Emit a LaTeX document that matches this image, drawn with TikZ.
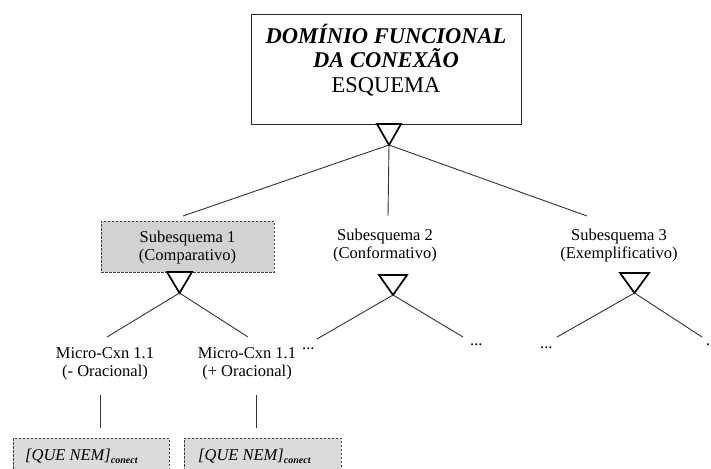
\documentclass[tikz,border=0pt]{standalone}
\usepackage{fontspec}
\setmainfont{Liberation Serif}
\begin{document}
\begin{tikzpicture}[x=1pt,y=-1pt,
  thinline/.style={draw=black!80, line width=0.9pt},
  tri/.style={draw=black, line width=1.7pt, line join=miter},
  dashbox/.style={draw=black!75, line width=0.8pt, dash pattern=on 2.5pt off 1.5pt, fill=gray!35},
  lbl/.style={font=\fontsize{16.5}{18}\selectfont, align=center, inner sep=0pt},
  toptxt/.style={font=\fontsize{22.5}{25}\selectfont, inner sep=0pt, anchor=base},
  dotsty/.style={font=\fontsize{16.5}{18}\selectfont, inner sep=0pt, anchor=base west},
  subsc/.style={font=\fontsize{16.5}{18}\selectfont, inner sep=0pt, anchor=base west}
]
\clip (0,0) rectangle (711,468);
\fill[white] (0,0) rectangle (711,468);

% top box
\node[draw=black!85, line width=1pt, minimum width=270pt, minimum height=109pt, inner sep=0pt] (top) at (386,69.5) {};
\node[toptxt] (t1) at (386,44) {\textbf{\textit{DOMÍNIO FUNCIONAL}}};
\node[toptxt] (t2) at (386,67.5) {\textbf{\textit{DA CONEXÃO}}};
\node[toptxt] (t3) at (386,93) {ESQUEMA};

% top triangle
\coordinate (a0) at (389,145);
\draw[tri] (377,124) -- (401,124) -- (a0) -- cycle;

% subschemas (anchor base = last line baseline)
\node[dashbox, minimum width=173pt, minimum height=51pt, inner sep=0pt] (s1box) at (187.5,246.5) {};
\node[lbl, anchor=base] (s1) at (187.5,260) {Subesquema 1\\(Comparativo)};
\node[lbl, anchor=base] (s2) at (385,258) {Subesquema 2\\(Conformativo)};
\node[lbl, anchor=base] (s3) at (619,258) {Subesquema 3\\(Exemplificativo)};

\coordinate (e1) at (183,216);
\coordinate (e2) at (388,216);
\coordinate (e3) at (587,216);
\draw[thinline] (a0) -- (e1);
\draw[thinline] (a0) -- (e2);
\draw[thinline] (a0) -- (e3);

% sub triangles
\coordinate (a1) at (179.5,293);
\draw[tri] (167,272) -- (192,272) -- (a1) -- cycle;
\coordinate (a2) at (393,295);
\draw[tri] (379,275) -- (407,275) -- (a2) -- cycle;
\coordinate (a3) at (634.5,293);
\draw[tri] (620,273) -- (649,273) -- (a3) -- cycle;

% micro constructions
\node[lbl, anchor=base] (m1) at (105,376) {Micro-Cxn 1.1\\(- Oracional)};
\node[lbl, anchor=base] (m2) at (247,376) {Micro-Cxn 1.1\\(+ Oracional)};
\coordinate (b11) at (107,337);
\coordinate (b12) at (248,337);
\draw[thinline] (a1) -- (b11);
\draw[thinline] (a1) -- (b12);

% dots
\node[dotsty] (d21) at (302,349) {...};
\node[dotsty] (d22) at (470,345) {...};
\node[dotsty] (d31) at (540,348) {...};
\node[dotsty] (d32) at (706,345) {...};
\coordinate (b21) at (317,339);
\coordinate (b22) at (463,337);
\coordinate (b31) at (557,337);
\coordinate (b32) at (702,337);
\draw[thinline] (a2) -- (b21);
\draw[thinline] (a2) -- (b22);
\draw[thinline] (a3) -- (b31);
\draw[thinline] (a3) -- (b32);

% bottom boxes
\node[dashbox, fill=gray!28, minimum width=156pt, minimum height=60pt, inner sep=0pt, anchor=north west] (q1) at (13,438) {};
\node[dashbox, fill=gray!28, minimum width=157pt, minimum height=60pt, inner sep=0pt, anchor=north west] (q2) at (184,438) {};
\node[subsc] (q1t) at (25,460) {\textit{[QUE NEM]}\raisebox{-3pt}{\textbf{\textit{\fontsize{10}{11}\selectfont conect}}}};
\node[subsc] (q2t) at (198,460) {\textit{[QUE NEM]}\raisebox{-3pt}{\textbf{\textit{\fontsize{10}{11}\selectfont conect}}}};

\coordinate (v1a) at (100,395);
\coordinate (v1b) at (100,428);
\coordinate (v2a) at (256,395);
\coordinate (v2b) at (256,428);
\draw[thinline] (v1a) -- (v1b);
\draw[thinline] (v2a) -- (v2b);
\end{tikzpicture}
\end{document}
